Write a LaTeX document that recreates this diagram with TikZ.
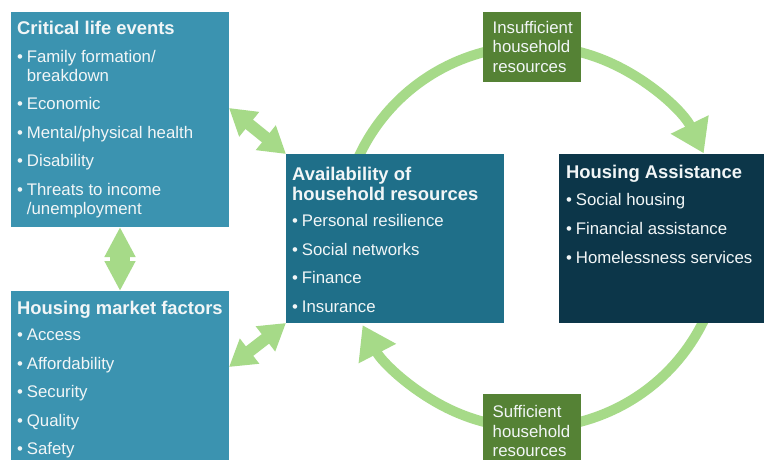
\documentclass[tikz,border=0pt]{standalone}
\usepackage{fontspec}
\setmainfont{Liberation Sans}
\usetikzlibrary{arrows.meta}

\definecolor{lifeblue}{HTML}{3B93B0}
\definecolor{resteal}{HTML}{1F6F89}
\definecolor{assistnavy}{HTML}{0C3649}
\definecolor{flowgreen}{HTML}{558235}
\definecolor{arrowgreen}{HTML}{A6DA88}
\definecolor{boxtext}{HTML}{F2F6F7}

% bullet with a fixed-width slot so wrapped lines line up
\newcommand{\bl}{\makebox[9.7pt][l]{\textbullet}}

\begin{document}
\begin{tikzpicture}[x=1pt,y=-1pt,
  panel/.style={draw=none, inner sep=0pt, outer sep=0pt, anchor=north west},
  ttl/.style={anchor=base west, inner sep=0pt, text=boxtext,
    font=\fontsize{18.4}{20}\selectfont\bfseries},
  itm/.style={anchor=base west, inner sep=0pt, text=boxtext,
    font=\fontsize{16.8}{19.5}\selectfont},
  cyc/.style={draw=arrowgreen, line width=10pt,
    -{Triangle[width=40pt,length=32pt]}},
  dbl/.style={draw=arrowgreen, line width=12pt,
    {Triangle[width=30pt,length=26pt]}-{Triangle[width=30pt,length=26pt]}},
  dblv/.style={draw=arrowgreen, line width=20pt,
    {Triangle[width=29pt,length=30pt]}-{Triangle[width=29pt,length=30pt]}}
]
\useasboundingbox (0,0) rectangle (764,460);
\clip (0,0) rectangle (764,460);
\fill[white] (0,0) rectangle (764,460);

% cycle between available resources and housing assistance
\coordinate (ctr) at (532,237);
\draw[cyc] (ctr) ++(157:191pt) arc[start angle=157, end angle=26, radius=191pt];
\draw[cyc] (ctr) ++(-25:191pt) arc[start angle=-25, end angle=-152.5, radius=191pt];

% panels
\node[panel, fill=lifeblue, minimum width=218pt, minimum height=215pt] (cle) at (11,12) {};
\node[panel, fill=lifeblue, minimum width=218pt, minimum height=185pt] (hm) at (11,291) {};
\node[panel, fill=resteal, minimum width=218pt, minimum height=169pt] (av) at (286,154) {};
\node[panel, fill=assistnavy, minimum width=215pt, minimum height=169pt] (ha) at (559,154) {};
\node[panel, fill=flowgreen, minimum width=98pt, minimum height=70pt] (ins) at (483,12) {};
\node[panel, fill=flowgreen, minimum width=98pt, minimum height=76pt] (suf) at (483,394) {};

% two-way links between the panels on the left
\draw[dbl] ([yshift=11.5pt]cle.east) -- (av.north west);
\draw[dblv] (cle.south) -- (hm.north);
\draw[dbl] ([yshift=-76pt]hm.north east) -- (av.south west);

% Critical life events
\node[ttl] (clet) at (17,35) {Critical life events};
\node[itm] (cle1) at (17,62.5) {\bl Family formation/};
\node[itm] (cle1b) at (26.7,81.5) {breakdown};
\node[itm] (cle2) at (17,110) {\bl Economic};
\node[itm] (cle3) at (17,138.5) {\bl Mental/physical health};
\node[itm] (cle4) at (17,167) {\bl Disability};
\node[itm] (cle5) at (17,195.5) {\bl Threats to income};
\node[itm] (cle5b) at (26.7,214.5) {/unemployment};

% Housing market factors
\node[ttl] (hmt) at (17,314) {Housing market factors};
\node[itm] (hm1) at (17,340.5) {\bl Access};
\node[itm] (hm2) at (17,369) {\bl Affordability};
\node[itm] (hm3) at (17,397.5) {\bl Security};
\node[itm] (hm4) at (17,426) {\bl Quality};
\node[itm] (hm5) at (17,454.5) {\bl Safety};

% Availability of household resources
\node[ttl] (avt1) at (292,180.5) {Availability of};
\node[ttl] (avt2) at (292,200.5) {household resources};
\node[itm] (av1) at (292,226.5) {\bl Personal resilience};
\node[itm] (av2) at (292,255) {\bl Social networks};
\node[itm] (av3) at (292,283.5) {\bl Finance};
\node[itm] (av4) at (292,312) {\bl Insurance};

% Housing Assistance
\node[ttl] (hat) at (566,178) {Housing Assistance};
\node[itm] (ha1) at (566,205.5) {\bl Social housing};
\node[itm] (ha2) at (566,234.5) {\bl Financial assistance};
\node[itm] (ha3) at (566,263.5) {\bl Homelessness services};

% flow labels
\node[itm] (ins1) at (492.5,33.3) {Insufficient};
\node[itm] (ins2) at (492.5,53) {household};
\node[itm] (ins3) at (492.5,72.7) {resources};
\node[itm] (suf1) at (492.5,417.3) {Sufficient};
\node[itm] (suf2) at (492.5,437) {household};
\node[itm] (suf3) at (492.5,456.7) {resources};
\end{tikzpicture}
\end{document}
